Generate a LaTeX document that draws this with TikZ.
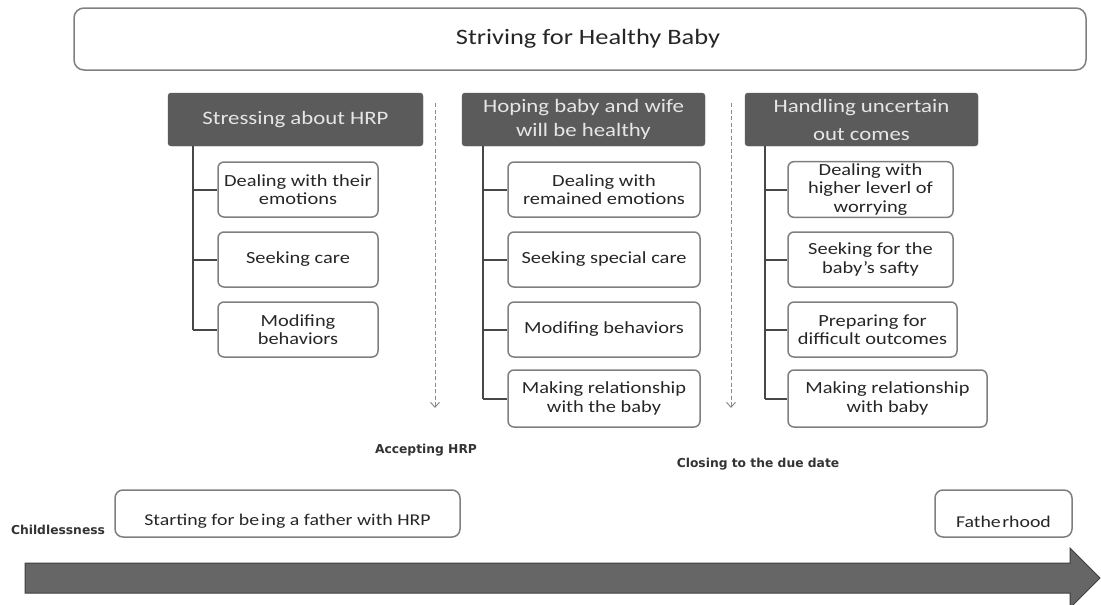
\documentclass[tikz,border=0pt]{standalone}
\usepackage{fontspec}
\setmainfont{Carlito}[FakeStretch=1.2]
\newfontfamily\smallfont{DejaVu Sans}
\usetikzlibrary{arrows.meta}
\definecolor{boxline}{HTML}{7F7F7F}
\definecolor{headfill}{HTML}{5B5B5B}
\definecolor{headtext}{HTML}{E6E6E6}
\definecolor{treeline}{HTML}{474747}
\definecolor{bodytext}{HTML}{262626}
\definecolor{labeltext}{HTML}{333333}
\definecolor{dashline}{HTML}{8C8C8C}
\definecolor{arrowfill}{HTML}{666666}
\definecolor{arrowedge}{HTML}{3F3F3F}
\tikzset{
  titlebox/.style={draw=boxline, line width=1.5pt, rounded corners=10pt,
    minimum width=1012pt, minimum height=62pt, text=bodytext,
    font=\fontsize{22}{26}\selectfont},
  headbox/.style={fill=headfill, draw=headfill, rounded corners=3pt,
    minimum height=53pt, text=headtext, align=center, inner sep=2pt},
  itembox/.style={draw=boxline, line width=1.5pt, rounded corners=6pt,
    minimum height=55pt, text=bodytext, align=center, inner sep=2pt,
    font=\fontsize{17}{18.5}\selectfont},
  stagebox/.style={draw=boxline, line width=1.5pt, rounded corners=8pt,
    minimum height=47pt},
  stagetext/.style={text=bodytext, font=\fontsize{16.5}{19}\selectfont},
  trunk/.style={draw=treeline, line width=2pt},
  phase/.style={draw=dashline, line width=1pt, dash pattern=on 4pt off 2.5pt,
    -{Straight Barb[length=5pt,width=9pt,line width=1pt]}},
  phaselabel/.style={text=labeltext, font=\smallfont\bfseries\fontsize{12.3}{14}\selectfont}
}
\begin{document}
\begin{tikzpicture}[x=1pt,y=-1pt]
\useasboundingbox (0,0) rectangle (1101,605);

% overall theme
\node[titlebox] (top) at (580,39) {\hspace*{16pt}Striving for Healthy Baby};

% three stages of the pregnancy
\node[headbox, minimum width=255pt, font=\fontsize{19}{26}\selectfont] (h1) at (295.5,119.5) {Stressing about HRP};
\node[headbox, minimum width=243pt, font=\fontsize{19}{24}\selectfont] (h2) at (583.5,119.5) {Hoping baby and wife\\will be healthy};
\node[headbox, minimum width=233pt, font=\fontsize{19}{28}\selectfont] (h3) at (861.5,119.5) {Handling uncertain\\out comes};

% first stage
\node[itembox, minimum width=160pt] (a1) at (298,189.5) {Dealing with their\\emotions};
\node[itembox, minimum width=160pt] (a2) at (298,259.5) {Seeking care};
\node[itembox, minimum width=160pt] (a3) at (298,329.5) {Modifing\\behaviors};

% second stage
\node[itembox, minimum width=192pt] (b1) at (604,189.5) {Dealing with\\remained emotions};
\node[itembox, minimum width=192pt] (b2) at (604,259.5) {Seeking special care};
\node[itembox, minimum width=192pt] (b3) at (604,329.5) {Modifing behaviors};
\node[itembox, minimum width=192pt, minimum height=57pt] (b4) at (604,398.5) {Making relationship\\with the baby};

% third stage
\node[itembox, minimum width=165pt] (c1) at (870.5,189.5) {Dealing with\\higher leverl of\\worrying};
\node[itembox, minimum width=165pt] (c2) at (870.5,259.5) {Seeking for the\\baby's safty};
\node[itembox, minimum width=169pt] (c3) at (872.5,329.5) {Preparing for\\difficult outcomes};
\node[itembox, minimum width=199pt, minimum height=57pt] (c4) at (887.5,398.5) {Making relationship\\with baby};

% trees under each stage
\coordinate (t1) at (193,146);
\coordinate (t2) at (483,146);
\coordinate (t3) at (765,146);
\draw[trunk] (t1) -- (t1 |- a3.west);
\foreach \n in {a1,a2,a3} \draw[trunk] (t1 |- \n.west) -- (\n.west);
\draw[trunk] (t2) -- (t2 |- b4.west);
\foreach \n in {b1,b2,b3,b4} \draw[trunk] (t2 |- \n.west) -- (\n.west);
\draw[trunk] (t3) -- (t3 |- c4.west);
\foreach \n in {c1,c2,c3,c4} \draw[trunk] (t3 |- \n.west) -- (\n.west);

% transitions between stages
\coordinate (d1s) at (435,103);
\coordinate (d1e) at (435,408);
\coordinate (d2s) at (731,103);
\coordinate (d2e) at (731,408);
\draw[phase] (d1s) -- (d1e);
\draw[phase] (d2s) -- (d2e);
\node[phaselabel] (acc) at (426,450) {Accepting HRP};
\node[phaselabel] (due) at (758,464) {Closing to the due date};

% timeline
\node[phaselabel] (child) at (58,530) {Childlessness};
\node[stagebox, minimum width=345pt] (start) at (287.5,513.5) {};
\node[stagetext] (starttxt) at ([yshift=-8pt]start.center) {Starting for be\kern2pt ing a father with HRP};
\node[stagebox, minimum width=137pt] (father) at (1003.5,513.5) {};
\node[stagetext] (fathertxt) at ([yshift=-8pt]father.center) {Fathe\kern1.5pt rhood};

\fill[arrowfill, draw=arrowedge, line width=1pt]
  (25,563) -- (1070,563) -- (1070,548) -- (1100,578) -- (1070,608)
  -- (1070,593) -- (25,593) -- cycle;
\end{tikzpicture}
\end{document}
